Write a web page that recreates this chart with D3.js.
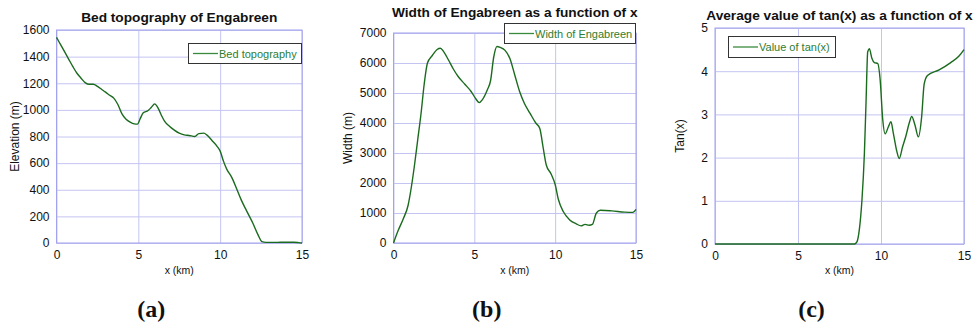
<!DOCTYPE html>
<html>
<head>
<meta charset="utf-8">
<script src="https://cdn.jsdelivr.net/npm/d3@7"></script>
<style>
  html, body { margin: 0; padding: 0; background: #fff; }
  svg { display: block; }
</style>
</head>
<body>
<svg id="fig" width="977" height="329"></svg>
<script>
// Distance along the flowline (km) and bed elevation (m)
const bedX = [0, 0.25, 0.5, 0.75, 1.0, 1.25, 1.5, 1.75, 2.0, 2.25, 2.5, 2.75, 3.0, 3.25, 3.5, 3.75, 4.0, 4.25, 4.5, 4.75, 4.95, 5.1, 5.3, 5.6, 5.8, 6.0, 6.2, 6.4, 6.6, 6.9, 7.2, 7.5, 7.8, 8.1, 8.45, 8.7, 9.0, 9.2, 9.5, 9.8, 10.0, 10.2, 10.4, 10.7, 11.0, 11.3, 11.6, 12.0, 12.3, 12.55, 12.8, 13.5, 14.5, 14.8, 15];
const bedElevation = [1545, 1490, 1435, 1380, 1325, 1275, 1238, 1205, 1192, 1193, 1177, 1155, 1133, 1110, 1088, 1040, 970, 930, 908, 895, 893, 930, 978, 995, 1020, 1045, 1015, 962, 915, 877, 848, 825, 812, 808, 800, 822, 825, 810, 770, 728, 690, 615, 555, 495, 410, 320, 245, 148, 65, 10, 5, 5, 6, 3, 0];

// Glacier width (m) along the flowline
const widthX = [0, 0.3, 0.6, 0.9, 1.1, 1.3, 1.5, 1.7, 1.9, 2.1, 2.4, 2.7, 2.9, 3.1, 3.4, 3.7, 4.0, 4.4, 4.8, 5.1, 5.3, 5.5, 5.8, 6.0, 6.2, 6.4, 6.6, 6.9, 7.2, 7.5, 7.8, 8.1, 8.45, 8.8, 9.05, 9.25, 9.45, 9.75, 10.0, 10.2, 10.5, 10.9, 11.3, 11.6, 11.85, 12.1, 12.3, 12.55, 12.8, 13.5, 14.3, 14.8, 15];
const widthValues = [0, 430, 800, 1250, 1850, 2600, 3450, 4300, 5300, 6000, 6250, 6450, 6490, 6380, 6100, 5800, 5550, 5300, 5050, 4800, 4680, 4780, 5100, 5400, 6200, 6550, 6520, 6420, 6150, 5600, 5050, 4650, 4320, 4000, 3820, 3200, 2600, 2300, 1950, 1450, 1050, 770, 640, 570, 620, 590, 620, 1000, 1090, 1070, 1030, 1020, 1120];

// Average tan of the bed slope along the flowline
const tanX = [0, 8.4, 8.55, 8.7, 8.85, 9.0, 9.1, 9.2, 9.3, 9.45, 9.6, 9.8, 9.95, 10.1, 10.25, 10.45, 10.6, 10.75, 10.95, 11.1, 11.3, 11.5, 11.7, 11.85, 12.05, 12.25, 12.45, 12.6, 12.8, 13.5, 14.2, 14.7, 15];
const tanValues = [0, 0, 0.05, 0.35, 1.0, 2.1, 3.3, 4.45, 4.52, 4.3, 4.2, 4.18, 3.8, 2.9, 2.55, 2.72, 2.83, 2.55, 2.15, 1.98, 2.25, 2.5, 2.8, 2.95, 2.75, 2.48, 2.95, 3.7, 3.9, 4.03, 4.2, 4.35, 4.5];

const xTicks = [0, 5, 10, 15];
const bedTicks = [0, 200, 400, 600, 800, 1000, 1200, 1400, 1600];
const widthTicks = [0, 1000, 2000, 3000, 4000, 5000, 6000, 7000];
const tanTicks = [0, 1, 2, 3, 4, 5];

const SANS = "'Liberation Sans', Arial, sans-serif";
const SERIF = "'Liberation Serif', 'DejaVu Serif', serif";

const panels = [
  {
    title: "Bed topography of Engabreen", titleY: 22,
    yLabel: "Elevation (m)", legend: "Bed topography", tag: "(a)",
    xs: bedX, ys: bedElevation, yMax: 1600, yTicks: bedTicks,
    box: { left: 56.5, right: 302, top: 30, bottom: 243 },
    yLabelX: 19,
    leg: { x: 188, y: 43, w: 114, h: 20 }
  },
  {
    title: "Width of Engabreen as a function of x", titleY: 17,
    yLabel: "Width (m)", legend: "Width of Engabreen", tag: "(b)",
    xs: widthX, ys: widthValues, yMax: 7000, yTicks: widthTicks,
    box: { left: 393.5, right: 636, top: 33, bottom: 243 },
    yLabelX: 352,
    leg: { x: 504, y: 23, w: 132, h: 20 }
  },
  {
    title: "Average value of tan(x) as a function of x", titleY: 20,
    yLabel: "Tan(x)", legend: "Value of tan(x)", tag: "(c)",
    xs: tanX, ys: tanValues, yMax: 5, yTicks: tanTicks,
    box: { left: 715, right: 964, top: 28, bottom: 244 },
    yLabelX: 684,
    leg: { x: 728, y: 36, w: 108, h: 21 }
  }
];

const svg = d3.select("#fig");
const lineColor = "#1b6b1f";
const gridColor = "#c4c4f2";
const frameColor = "#a2a2ee";

panels.forEach(p => {
  const b = p.box;
  const x = d3.scaleLinear().domain([0, 15]).range([b.left, b.right]);
  const y = d3.scaleLinear().domain([0, p.yMax]).range([b.bottom, b.top]);
  const g = svg.append("g");

  // grid lines
  g.append("g")
    .attr("transform", `translate(0,${b.bottom})`)
    .call(d3.axisBottom(x).tickValues(xTicks).tickSize(-(b.bottom - b.top)).tickFormat(""))
    .call(s => s.select(".domain").remove())
    .call(s => s.selectAll("line").attr("stroke", gridColor).attr("stroke-width", 1));
  g.append("g")
    .attr("transform", `translate(${b.left},0)`)
    .call(d3.axisLeft(y).tickValues(p.yTicks).tickSize(-(b.right - b.left)).tickFormat(""))
    .call(s => s.select(".domain").remove())
    .call(s => s.selectAll("line").attr("stroke", gridColor).attr("stroke-width", 1));

  // frame
  g.append("rect")
    .attr("x", b.left).attr("y", b.top)
    .attr("width", b.right - b.left).attr("height", b.bottom - b.top)
    .attr("fill", "none").attr("stroke", frameColor).attr("stroke-width", 1);

  // tick labels
  g.append("g")
    .attr("transform", `translate(0,${b.bottom})`)
    .call(d3.axisBottom(x).tickValues(xTicks).tickSize(0).tickPadding(7).tickFormat(d3.format("d")))
    .call(s => s.select(".domain").remove())
    .call(s => s.selectAll("text").style("font-size", "12px").style("fill", "#111")
      .style("font-family", SANS));
  g.append("g")
    .attr("transform", `translate(${b.left},0)`)
    .call(d3.axisLeft(y).tickValues(p.yTicks).tickSize(0).tickPadding(7).tickFormat(d3.format("d")))
    .call(s => s.select(".domain").remove())
    .call(s => s.selectAll("text").style("font-size", "12px").style("fill", "#111")
      .style("font-family", SANS));

  // data line
  const pts = p.xs.map((v, i) => [v, p.ys[i]]);
  g.append("path")
    .datum(pts)
    .attr("fill", "none")
    .attr("stroke", lineColor)
    .attr("stroke-width", 1.4)
    .attr("stroke-linejoin", "round")
    .attr("d", d3.line().x(d => x(d[0])).y(d => y(d[1])).curve(d3.curveMonotoneX));

  // title
  g.append("text")
    .attr("x", (b.left + b.right) / 2).attr("y", p.titleY)
    .attr("text-anchor", "middle")
    .style("font-family", SANS).style("font-size", "13.7px").style("font-weight", "bold")
    .style("fill", "#111")
    .text(p.title);

  // axis labels
  g.append("text")
    .attr("x", (b.left + b.right) / 2).attr("y", 274)
    .attr("text-anchor", "middle")
    .style("font-family", SANS).style("font-size", "10.5px").style("fill", "#111")
    .text("x (km)");
  g.append("text")
    .attr("transform", `translate(${p.yLabelX},${(b.top + b.bottom) / 2}) rotate(-90)`)
    .attr("text-anchor", "middle")
    .style("font-family", SANS).style("font-size", "12px").style("fill", "#111")
    .text(p.yLabel);

  // legend
  const L = p.leg;
  g.append("rect")
    .attr("x", L.x + 0.5).attr("y", L.y + 0.5).attr("width", L.w - 1).attr("height", L.h)
    .attr("fill", "#fff").attr("stroke", "#333").attr("stroke-width", 1);
  g.append("line")
    .attr("x1", L.x + 5).attr("x2", L.x + 30)
    .attr("y1", L.y + L.h / 2 + 0.5).attr("y2", L.y + L.h / 2 + 0.5)
    .attr("stroke", "#3a8a3e").attr("stroke-width", 1.3);
  g.append("text")
    .attr("x", L.x + 31).attr("y", L.y + L.h / 2 + 4.5)
    .style("font-family", SANS).style("font-size", "11px").style("fill", "#2e7d32")
    .text(p.legend);

  // subfigure tag
  g.append("text")
    .attr("x", (b.left + b.right) / 2 - 28).attr("y", 317)
    .attr("text-anchor", "middle")
    .style("font-family", SERIF).style("font-size", "24px").style("font-weight", "bold")
    .style("fill", "#111")
    .text(p.tag);
});
</script>
</body>
</html>
